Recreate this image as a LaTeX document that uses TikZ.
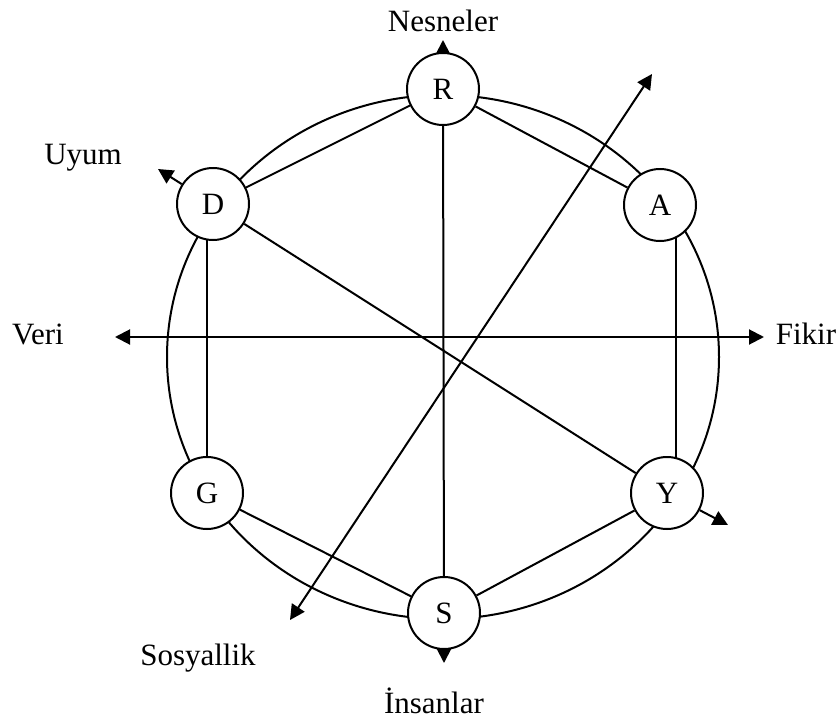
\documentclass[tikz,border=0pt]{standalone}
\usepackage{fontspec}
\setmainfont{Liberation Serif}
\usetikzlibrary{arrows.meta,backgrounds}
\begin{document}
\begin{tikzpicture}[x=1pt,y=-1pt,
  lw/.style={line width=2pt},
  vtx/.style={circle,draw,lw,fill=white,minimum size=72pt,inner sep=0pt,font=\fontsize{31}{31}\selectfont},
  lbl/.style={anchor=base,inner sep=0pt,font=\fontsize{31}{31}\selectfont},
  tip/.style={-{Triangle[length=15pt,width=15pt]}},
  tips/.style={{Triangle[length=15pt,width=15pt]}-{Triangle[length=15pt,width=15pt]}}]
\useasboundingbox (0,0) rectangle (839,720);
% vertices
\node[vtx] (R) at (443,89) {R};
\node[vtx] (A) at (660,205) {A};
\node[vtx] (Y) at (667,493) {Y};
\node[vtx] (S) at (444,613) {S};
\node[vtx] (G) at (207,493) {G};
\node[vtx] (D) at (213,204) {D};
% arrow end points
\coordinate (nT) at (443,40);
\coordinate (sT) at (444,663);
\coordinate (uT) at (158,169);
\coordinate (yT) at (728,525);
\coordinate (vT) at (115,337);
\coordinate (fT) at (764,337);
\coordinate (soA) at (652,74);
\coordinate (soB) at (290,620);
% labels
\node[lbl] (ln) at (443,31) {Nesneler};
\node[lbl] (lu) at (83,164) {Uyum};
\node[lbl] (lv) at (38,344) {Veri};
\node[lbl] (lf) at (806,344) {Fikir};
\node[lbl] (ls) at (198,665) {Sosyallik};
\node[lbl] (li) at (434,713) {İnsanlar};
\begin{scope}[on background layer]
\draw[lw] (443,357) ellipse [x radius=276, y radius=262];
\draw[lw] (R) -- (D);
\draw[lw] (R) -- (A);
\draw[lw] (G) -- (G |- D);
\draw[lw] ([xshift=16pt]A.center) -- ([xshift=9pt]Y.center);
\draw[lw] (G) -- (S);
\draw[lw] (Y) -- (S);
\draw[lw] (R) -- (S);
\draw[lw] (D) -- (Y);
\draw[lw,tip] (R) -- (nT);
\draw[lw,tip] (S) -- (sT);
\draw[lw,tip] (D) -- (uT);
\draw[lw,tip] (Y) -- (yT);
\draw[lw,tips] (vT) -- (fT);
\draw[lw,tips] (soB) -- (soA);
\end{scope}
\end{tikzpicture}
\end{document}
